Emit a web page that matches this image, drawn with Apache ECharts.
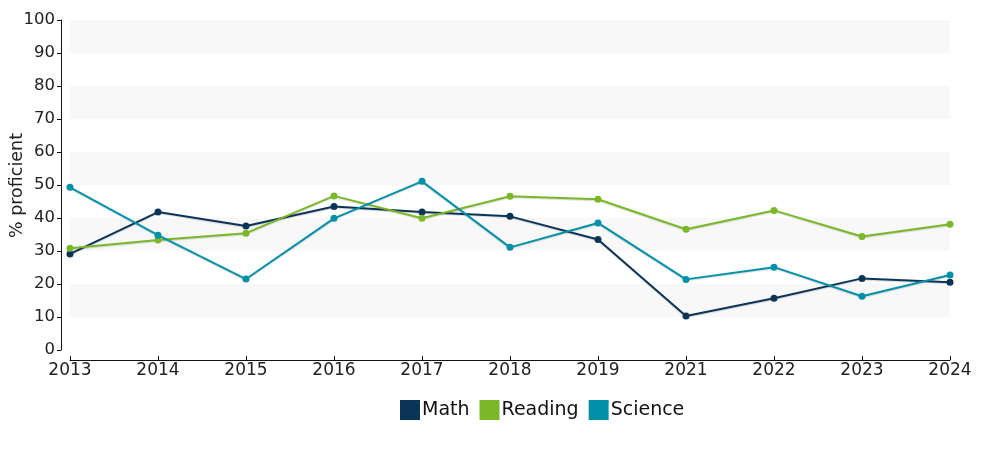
<!DOCTYPE html>
<html>
<head>
<meta charset="utf-8">
<script src="https://cdn.jsdelivr.net/npm/echarts@6/dist/echarts.min.js"></script>
<style>
  html, body { margin: 0; padding: 0; background: #fff; }
  #chart { width: 1000px; height: 450px; }
</style>
</head>
<body>
<div id="chart"></div>
<script>
// years on the x axis (2020 is missing in the source)
const years = ["2013", "2014", "2015", "2016", "2017", "2018", "2019", "2021", "2022", "2023", "2024"];

// % proficient per subject
const mathValues = [29.1, 41.8, 37.6, 43.5, 41.8, 40.5, 33.5, 10.3, 15.7, 21.7, 20.5];
const readingValues = [30.8, 33.3, 35.4, 46.7, 39.9, 46.6, 45.7, 36.6, 42.3, 34.4, 38.1];
const scienceValues = [49.3, 34.8, 21.5, 39.9, 51.1, 31.1, 38.5, 21.4, 25.1, 16.3, 22.7];

const colors = {
  math: "#0b3457",
  reading: "#7ab829",
  science: "#0091a8",
};

const chart = echarts.init(document.getElementById("chart"));

const lineSeries = (name, data, color) => ({
  name: name,
  type: "line",
  data: data,
  symbol: "circle",
  symbolSize: 7,
  itemStyle: { color: color },
  lineStyle: {
    color: color,
    width: 2,
    shadowColor: "rgba(0,0,0,0.15)",
    shadowBlur: 1,
    shadowOffsetY: 1,
  },
});

chart.setOption({
  animation: false,
  textStyle: { fontFamily: "DejaVu Sans, sans-serif" },
  grid: { left: 70, right: 50, top: 20, bottom: 100, outerBoundsMode: "none" },
  // y axis title, drawn as text so it sits where the original puts it
  graphic: [
    {
      type: "text",
      left: 8,
      top: 133,
      rotation: Math.PI / 2,
      style: {
        text: "% proficient",
        font: "17.5px DejaVu Sans, sans-serif",
        fill: "#222",
      },
    },
  ],
  legend: {
    left: 400,
    top: 400,
    padding: 0,
    icon: "rect",
    itemWidth: 20,
    itemHeight: 20,
    itemGap: 10,
    textStyle: { fontSize: 19, color: "#111", padding: [0, 0, 0, -3] },
    data: ["Math", "Reading", "Science"],
  },
  xAxis: {
    type: "category",
    data: years,
    boundaryGap: false,
    offset: 10,
    axisLine: { onZero: false, lineStyle: { color: "#111", width: 1 } },
    axisTick: { alignWithLabel: true, inside: true, length: 4, lineStyle: { color: "#111" } },
    axisLabel: { fontSize: 17, color: "#222", margin: 2 },
    splitLine: { show: false },
  },
  yAxis: {
    type: "value",
    min: 0,
    max: 100,
    interval: 10,
    offset: 9,
    axisLine: { show: true, onZero: false, lineStyle: { color: "#111", width: 1 } },
    axisTick: { show: true, length: 4, lineStyle: { color: "#111" } },
    axisLabel: { fontSize: 16.5, color: "#222", margin: 6 },
    splitLine: { show: false },
    splitArea: { show: true, areaStyle: { color: ["rgba(255,255,255,0)", "#f8f8f8"] } },
  },
  series: [
    lineSeries("Math", mathValues, colors.math),
    lineSeries("Reading", readingValues, colors.reading),
    lineSeries("Science", scienceValues, colors.science),
  ],
});
</script>
</body>
</html>
